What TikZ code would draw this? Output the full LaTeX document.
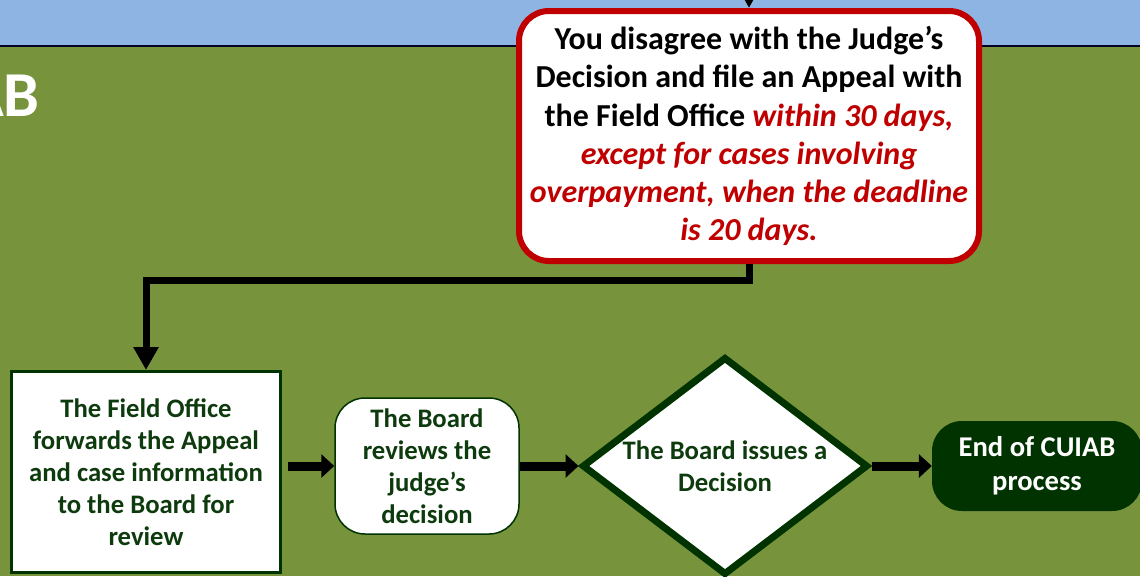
\documentclass[tikz,border=0pt]{standalone}
\usepackage{fontspec}
\setmainfont{Carlito}
\usetikzlibrary{arrows.meta, shapes.geometric, positioning, calc}

\tikzset{
  passo/.style={draw=verdeescuro, fill=white, text=textoverde, align=center, inner sep=0pt,
    font=\bfseries\fontsize{26.7}{32}\selectfont},
  seta/.style={-{Triangle[width=23pt,length=13pt]}, line width=9pt, draw=black},
  setavert/.style={-{Triangle[width=24pt,length=23pt]}, line width=7pt, draw=black},
}

\begin{document}
\begin{tikzpicture}[x=1pt, y=-1pt]
% --- FLUXO DO RECURSO ---
\definecolor{ceu}{HTML}{8DB4E2}
\definecolor{grama}{HTML}{77933C}
\definecolor{verdeescuro}{HTML}{003300}
\definecolor{textoverde}{HTML}{0E3B0E}
\definecolor{vermelho}{HTML}{C00000}

\useasboundingbox (0,0) rectangle (1140,576);

% LAYER 1: Fundo
\fill[grama] (0,0) rectangle (1140,576);
\fill[ceu] (0,0) rectangle (1140,46);
\draw[line width=2pt, color=black!85!blue] (0,46) -- (1140,46);
\node[anchor=east, text=white, font=\bfseries\fontsize{64}{70}\selectfont, inner sep=0pt] (titulo) at (40,96) {AB};

% LAYER 2: Caixa do recurso
\node[draw=vermelho, fill=white, line width=6pt, rounded corners=30pt, minimum width=460pt, minimum height=250pt,
  align=center, inner sep=0pt, font=\bfseries\fontsize{32}{38.2}\selectfont] (recurso) at (749,136)
  {You disagree with the Judge’s\\
   Decision and file an Appeal with\\
   the Field Office \textcolor{vermelho}{\itshape within 30 days,}\\
   \textcolor{vermelho}{\itshape except for cases involving}\\
   \textcolor{vermelho}{\itshape overpayment, when the deadline}\\
   \textcolor{vermelho}{\itshape is 20 days.}};

% LAYER 3: Etapas
\node[passo, line width=3pt, minimum width=269pt, minimum height=201pt] (escritorio) at (146,472)
  {The Field Office\\forwards the Appeal\\and case information\\to the Board for\\review};
\node[passo, line width=1.5pt, rounded corners=30pt, minimum width=184pt, minimum height=136pt] (revisao) at (427,466)
  {The Board\\reviews the\\judge’s\\decision};
\node[passo, diamond, aspect=1.3, line width=7pt, minimum width=286pt, minimum height=218pt] (decisao) at (725,466)
  {The Board issues a\\Decision};
\node[fill=verdeescuro, text=white, rounded corners=30pt, minimum width=210pt, minimum height=90pt,
  align=center, inner sep=0pt, font=\bfseries\fontsize{28.6}{34}\selectfont] (fim) at (1037,466)
  {End of CUIAB\\process};

% LAYER 4: Setas
\coordinate (entrada) at (749,-20);
\draw[setavert] (entrada) -- (recurso.north);
\draw[setavert] (recurso.south) -- ++(0,16) -| (escritorio.north);
\draw[seta] ($(escritorio.east |- revisao.west)+(6,0)$) -- (revisao.west);
\draw[seta] (revisao.east) -- (decisao.west);
\draw[seta] (decisao.east) -- (fim.west);
\end{tikzpicture}
\end{document}
